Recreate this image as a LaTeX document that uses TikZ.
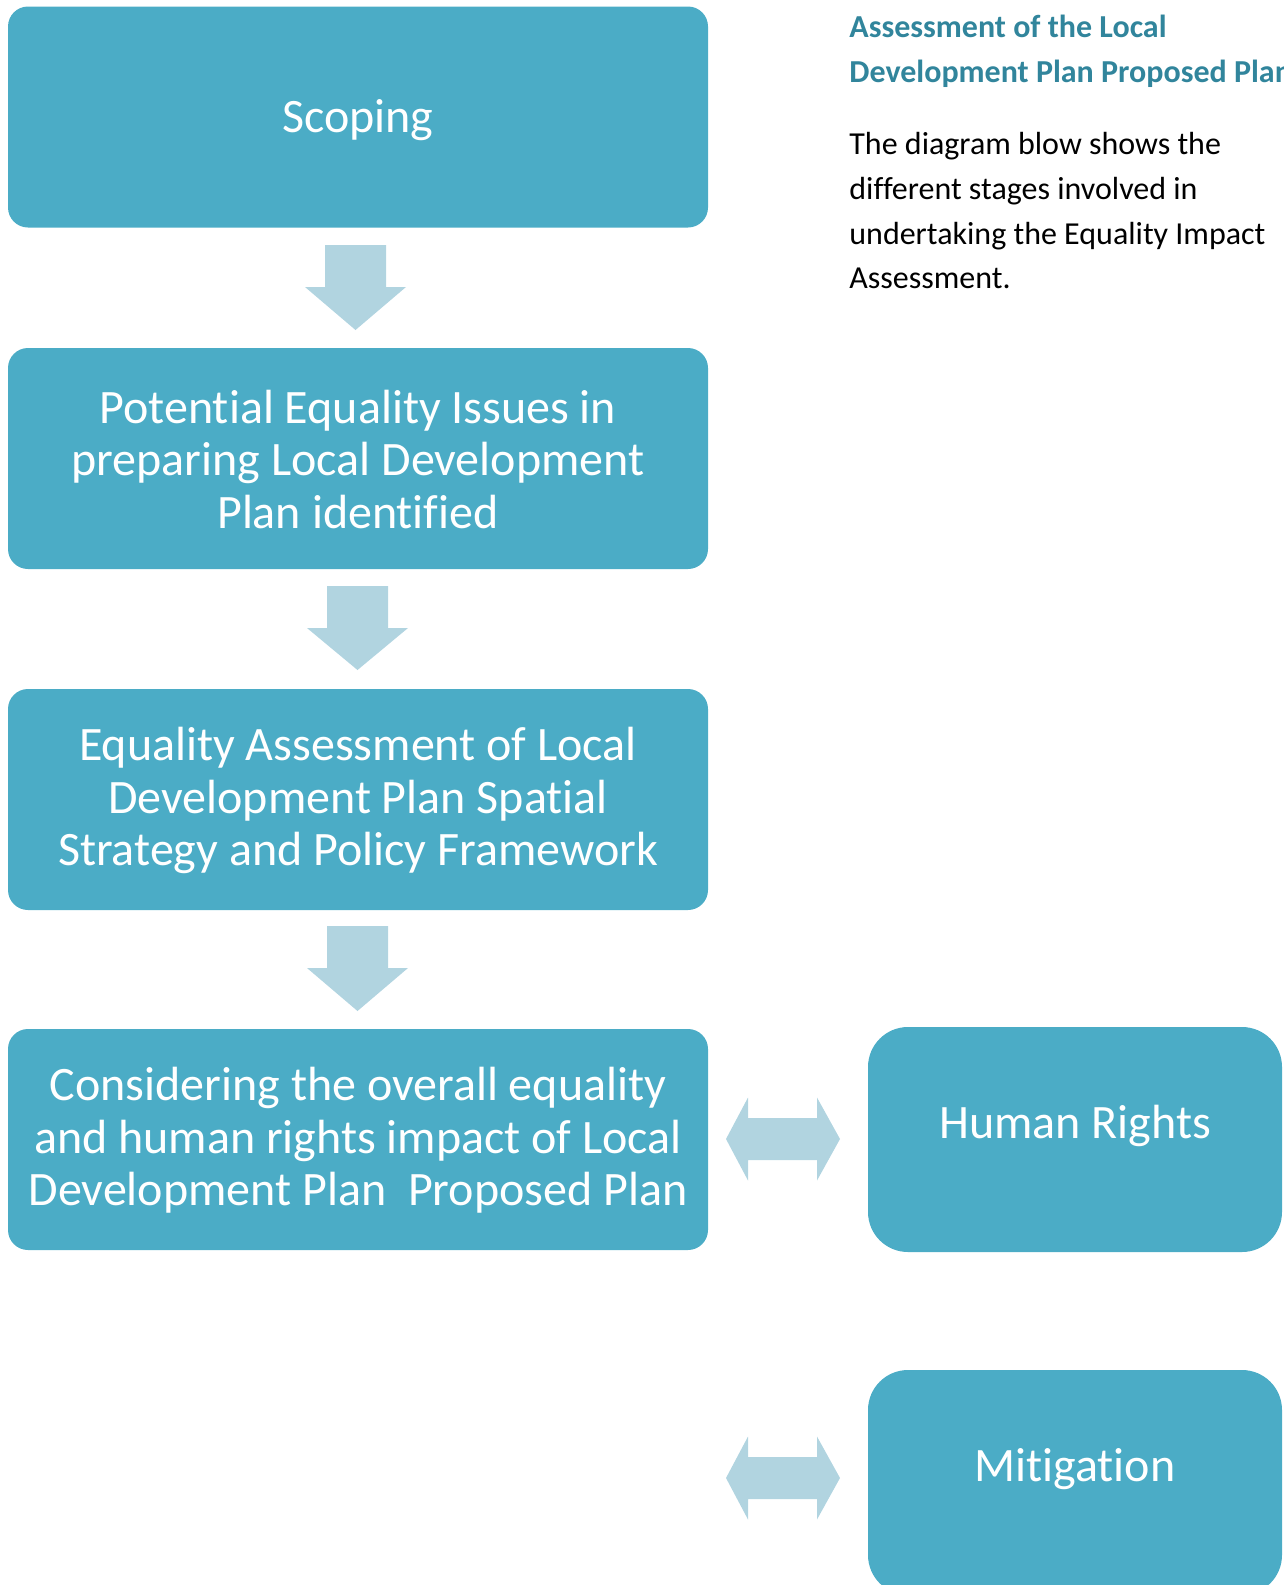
\documentclass[tikz,border=0pt]{standalone}
\usepackage{fontspec}
\setmainfont{Carlito}[Ligatures=NoCommon]
\definecolor{boxblue}{HTML}{4BACC6}
\definecolor{arrowblue}{HTML}{B1D4E0}
\definecolor{titleblue}{HTML}{31859C}
\begin{document}
\begin{tikzpicture}[x=0.5pt,y=-0.5pt,
  stagebox/.style={fill=boxblue, draw=none, rounded corners=10pt, inner sep=0pt,
    minimum width=350pt, minimum height=110.5pt},
  sidebox/.style={fill=boxblue, draw=none, rounded corners=20pt, inner sep=0pt,
    minimum width=207pt, minimum height=112.5pt},
  boxtext/.style={text=white, align=center, font=\fontsize{24}{26.3}\selectfont, inner sep=0pt},
  bodytext/.style={align=left, font=\fontsize{16}{22.5}\selectfont, inner sep=0pt, anchor=base west}
]
\useasboundingbox (0,0) rectangle (1284,1585);
\clip (0,0) rectangle (1284,1585);
% main stages
\node[stagebox] (s1) at (358,117) {};
\node[boxtext] (t1) at ([yshift=-1.5pt]s1.center) {Scoping};
\node[stagebox] (s2) at (358,458.5) {};
\node[boxtext] (t2) at ([yshift=-0.5pt]s2.center) {Potential Equality Issues in\\preparing Local Development\\Plan identified};
\node[stagebox] (s3) at (358,799.5) {};
\node[boxtext] (t3) at ([yshift=-0.5pt]s3.center) {Equality Assessment of Local\\Development Plan Spatial\\Strategy and Policy Framework};
\node[stagebox] (s4) at (358,1139.5) {};
\node[boxtext] (t4) at ([yshift=-0.5pt]s4.center) {Considering the overall equality\\and human rights impact of Local\\Development Plan\ \ Proposed Plan};
% side boxes
\node[sidebox] (hr) at (1075,1139.5) {};
\node[boxtext] (thr) at ([yshift=7pt]hr.center) {Human Rights};
\node[sidebox] (mi) at (1075,1482.5) {};
\node[boxtext] (tmi) at ([yshift=6.5pt]mi.center) {Mitigation};
% down arrows
\newcommand{\downblock}[3]{%
  \fill[arrowblue] (#1-30.5,#2) -- (#1+30.5,#2) -- (#1+30.5,#2+42) -- (#1+50.5,#2+42)
    -- (#1,#3) -- (#1-50.5,#2+42) -- (#1-30.5,#2+42) -- cycle;}
\downblock{355.5}{245}{330}
\downblock{357.5}{586}{670}
\downblock{357.5}{926}{1011}
% double arrows
\newcommand{\dblblock}[1]{%
  \fill[arrowblue] (726,#1) -- (748,#1-41.5) -- (748,#1-21) -- (817,#1-21) -- (817,#1-41.5)
    -- (840,#1) -- (817,#1+41.5) -- (817,#1+21) -- (748,#1+21) -- (748,#1+41.5) -- cycle;}
\dblblock{1139}
\dblblock{1478}
% right text
\node[bodytext, text=titleblue, font=\bfseries\fontsize{16}{22.5}\selectfont] (h1) at (849,37) {Assessment of the Local};
\node[bodytext, text=titleblue, font=\bfseries\fontsize{16}{22.5}\selectfont] (h2) at (849,82) {Development Plan Proposed Plan};
\node[bodytext] (b1) at (849,154) {The diagram blow shows the};
\node[bodytext] (b2) at (849,199) {different stages involved in};
\node[bodytext] (b3) at (849,244) {undertaking the Equality Impact};
\node[bodytext] (b4) at (849,288) {Assessment.};
\end{tikzpicture}
\end{document}
